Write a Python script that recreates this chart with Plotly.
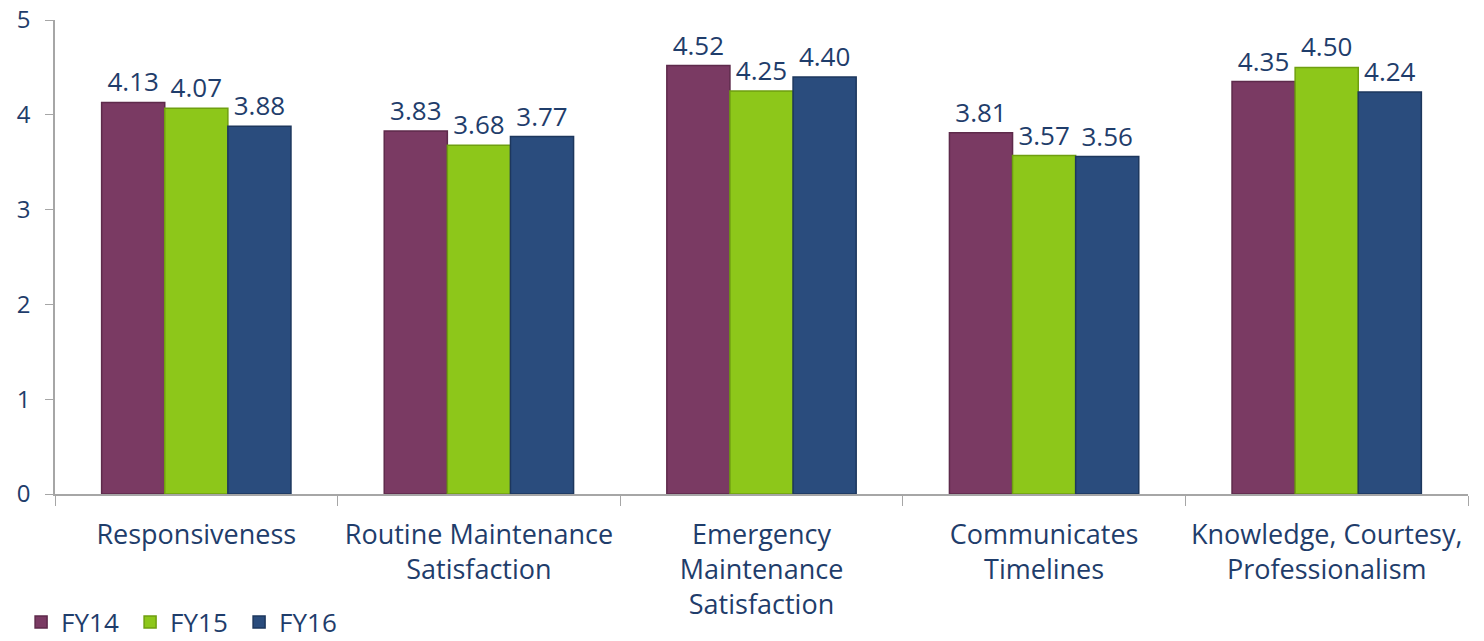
import plotly.graph_objects as go

categories = ["Responsiveness", "Routine Maintenance<br>Satisfaction",
              "Emergency<br>Maintenance<br>Satisfaction", "Communicates<br>Timelines",
              "Knowledge, Courtesy,<br>Professionalism"]
fy14 = [4.13, 3.83, 4.52, 3.81, 4.35]
fy15 = [4.07, 3.68, 4.25, 3.57, 4.50]
fy16 = [3.88, 3.77, 4.40, 3.56, 4.24]
series_names = ["FY14", "FY15", "FY16"]
colors = ["#7A3A63", "#8DC71A", "#2A4C7D"]
edge = ["#5E2A4B", "#6F9F10", "#1D375D"]
text_color = "#1F3D6B"
font_family = "Open Sans, Noto Sans, sans-serif"

fig = go.Figure()
for name, vals, c, e in zip(series_names, [fy14, fy15, fy16], colors, edge):
    fig.add_trace(go.Bar(
        x=categories, y=vals, name=name,
        marker=dict(color=c, line=dict(color=e, width=1.5)),
        text=[f"{v:.2f}" for v in vals], textposition="outside",
        textfont=dict(size=26, color=text_color, family=font_family),
        cliponaxis=False,
    ))

fig.update_layout(
    width=1484, height=641,
    margin=dict(l=55, r=16, t=20, b=147, autoexpand=False),
    paper_bgcolor="white", plot_bgcolor="white",
    barmode="group", bargap=0.33, bargroupgap=0,
    font=dict(family=font_family, size=22, color=text_color),
    showlegend=True,
    legend=dict(orientation="h", x=-0.024, xanchor="left", y=-0.27, yanchor="middle",
                font=dict(size=26, color=text_color), itemwidth=30,
                entrywidth=64, entrywidthmode="pixels", traceorder="normal"),
)
fig.update_yaxes(range=[0, 5], dtick=1, showgrid=False, showline=True,
                 linecolor="#A6A6A6", linewidth=1.5, ticks="outside", ticklen=8,
                 tickcolor="#A6A6A6", tickfont=dict(size=24, color=text_color),
                 zeroline=False, ticklabelstandoff=10, automargin=False,
                 ticklabeloverflow="allow")
fig.update_xaxes(showgrid=False, showline=True, linecolor="#A6A6A6", linewidth=1.5,
                 ticks="outside", ticklen=10, tickcolor="#A6A6A6", tickson="boundaries",
                 tickfont=dict(size=27, color=text_color), ticklabelstandoff=16,
                 automargin=False, ticklabeloverflow="allow")

fig.write_html("out.html", config={"displayModeBar": False},
               post_script="document.body.style.margin='0';")
